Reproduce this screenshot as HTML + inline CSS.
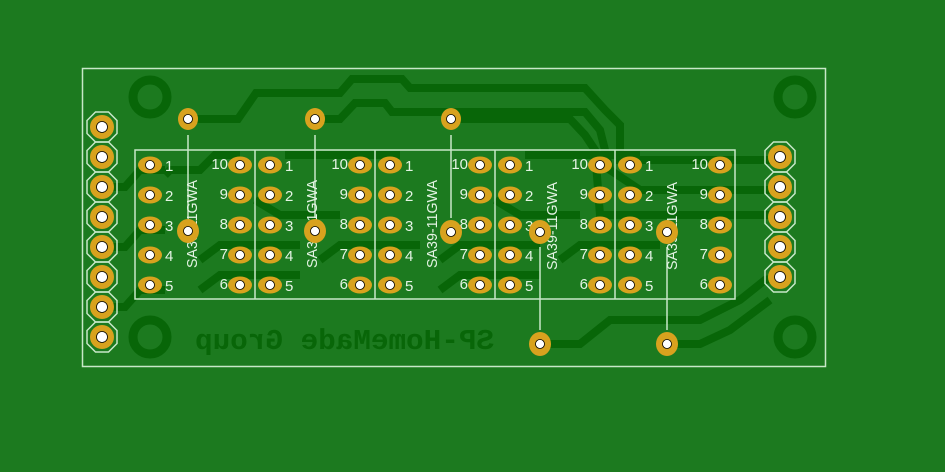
<!DOCTYPE html>
<html><head><meta charset="utf-8"><style>
html,body{margin:0;padding:0;background:#1c7a1f;}
svg{display:block}
</style></head><body>
<svg width="945" height="472" viewBox="0 0 945 472" xmlns="http://www.w3.org/2000/svg">
<rect width="945" height="472" fill="#1c7a1f"/>
<g fill="none" stroke="#086608" stroke-width="8" stroke-linejoin="miter">
<polyline points="188,119 238,119 256,93 340,93 352,79 402,79 410,88 585,88 605,110 620,125 620,160 780,160"/>
<polyline points="315,119 340,119 355,103 385,103 392,112 585,112 600,130 610,170 640,190 780,190"/>
<polyline points="451,119 570,119 585,135 595,150 600,215 780,215"/>
<polyline points="540,344 580,344 610,320 700,320 740,300 765,280 780,277"/>
<polyline points="667,344 700,344 730,330 770,300"/>
<polyline points="102,187 125,187 140,170 165,170"/>
<polyline points="102,247 125,247 140,230 165,230"/>
<polyline points="102,307 125,307 140,290 165,290"/>
<polyline points="165,175 170,170 200,170 215,155 240,155"/>
<polyline points="285,155 400,155"/>
<polyline points="525,155 640,155"/>
<polyline points="200,260 220,245 300,245"/>
<polyline points="320,260 340,245 420,245"/>
<polyline points="440,260 460,245 540,245"/>
<polyline points="560,260 580,245 660,245"/>
<polyline points="200,290 220,275 300,275"/>
<polyline points="440,290 460,275 540,275"/>
<polyline points="255,200 280,215 340,215"/>
<polyline points="495,200 520,215 580,215"/>
</g>
<g fill="none" stroke="#086608" stroke-width="9">
<circle cx="150" cy="97" r="17"/><circle cx="795" cy="97" r="17"/>
<circle cx="150" cy="337" r="17"/><circle cx="795" cy="337" r="17"/>
</g>
<text transform="translate(689,0) scale(-1,1)" x="195" y="349" font-family="Liberation Mono, monospace" font-weight="bold" font-size="29" fill="#086608" textLength="299" lengthAdjust="spacingAndGlyphs">SP-HomeMade Group</text>
<rect x="82.5" y="68.5" width="743" height="298" fill="none" stroke="#c8e8c8" stroke-width="1.5"/>
<g fill="none" stroke="#c8e8c8" stroke-width="1.5">
<rect x="135" y="150" width="600" height="149"/>
<line x1="255" y1="150" x2="255" y2="299"/><line x1="375" y1="150" x2="375" y2="299"/>
<line x1="495" y1="150" x2="495" y2="299"/><line x1="615" y1="150" x2="615" y2="299"/>
<line x1="188" y1="135" x2="188" y2="218"/><line x1="315" y1="135" x2="315" y2="218"/>
<line x1="451" y1="135" x2="451" y2="218"/>
<line x1="540" y1="247" x2="540" y2="330"/><line x1="667" y1="247" x2="667" y2="330"/>
</g>
<script>
const NS="http://www.w3.org/2000/svg";
const svg=document.querySelector('svg');
function el(t,a,p){const e=document.createElementNS(NS,t);for(const k in a)e.setAttribute(k,a[k]);(p||svg).appendChild(e);return e;}
function oct(cx,cy){const r=15,s=6.5;const pts=[[cx-s,cy-r],[cx+s,cy-r],[cx+r,cy-s],[cx+r,cy+s],[cx+s,cy+r],[cx-s,cy+r],[cx-r,cy+s],[cx-r,cy-s]];
el('polygon',{points:pts.map(p=>p.join(',')).join(' '),fill:'none',stroke:'#c8e8c8','stroke-width':1.5});
el('circle',{cx,cy,r:12,fill:'#d8a21e'});el('circle',{cx,cy,r:5.5,fill:'#fff',stroke:'#000','stroke-width':0.8});}
for(let i=0;i<8;i++)oct(102,127+30*i);
for(let i=0;i<5;i++)oct(780,157+30*i);
function opad(cx,cy){el('ellipse',{cx,cy,rx:12,ry:8.5,fill:'#d8a21e'});el('circle',{cx,cy,r:4.5,fill:'#fff',stroke:'#000','stroke-width':0.8});}
function rpad(cx,cy,r){el('ellipse',{cx,cy,rx:r,ry:r+1,fill:'#d8a21e'});el('circle',{cx,cy,r:4.5,fill:'#fff',stroke:'#000','stroke-width':0.8});}
const rows=[165,195,225,255,285];
const F='Liberation Sans, sans-serif';
for(let m=0;m<5;m++){const x=135+120*m;
 rows.forEach((y,i)=>{opad(x+15,y);opad(x+105,y);
  el('text',{x:x+30,y:y+6,'font-family':F,'font-size':15,fill:'#e4f4e4'}).textContent=String(i+1);
  el('text',{x:x+93,y:y+4,'text-anchor':'end','font-family':F,'font-size':15,fill:'#e4f4e4'}).textContent=String(10-i);});
 el('text',{transform:`translate(${x+62},${x>=495?270:268}) rotate(-90)`,x:0,y:0,'font-family':F,'font-size':15,fill:'#e4f4e4',textLength:88,lengthAdjust:'spacingAndGlyphs'}).textContent='SA39-11GWA';
}
[[188,119],[315,119],[451,119]].forEach(p=>rpad(p[0],p[1],10));
[[188,231],[315,231],[451,232],[540,232],[667,232]].forEach(p=>rpad(p[0],p[1],11));
[[540,344],[667,344]].forEach(p=>rpad(p[0],p[1],11));
</script>
</svg>
</body></html>
